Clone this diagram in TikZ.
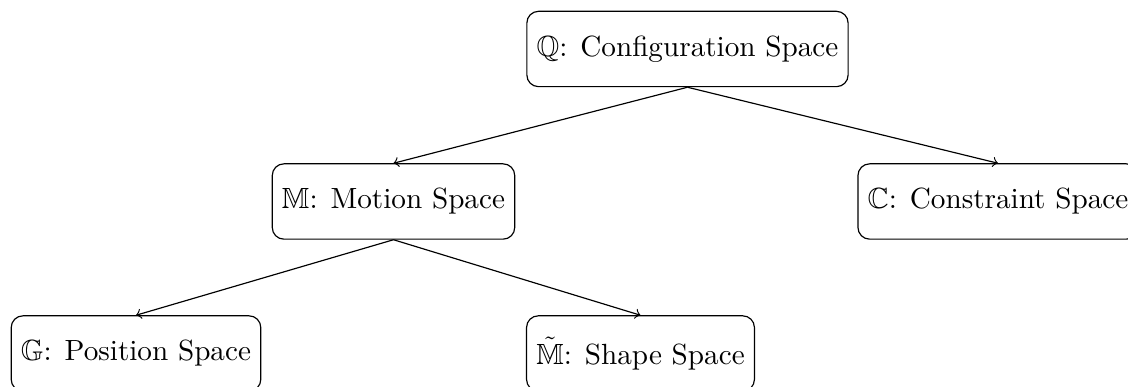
\documentclass[tikz,border=0pt]{standalone}
\usepackage{amssymb}
\begin{document}
\begin{tikzpicture}[x=0.3425pt,y=-0.3425pt,
  box/.style={draw, rounded corners=4pt, minimum height=25.8pt, inner sep=3.33pt},
  edge/.style={->}]
\useasboundingbox (0,0) rectangle (1128,387);
\node[box] (q) at (687.5,49) {$\mathbb{Q}$: Configuration Space};
\node[box] (m) at (393.5,201.5) {$\mathbb{M}$: Motion Space};
\node[box] (c) at (998,201.5) {$\mathbb{C}$: Constraint Space};
\node[box] (g) at (136,353.5) {$\mathbb{G}$: Position Space};
\node[box] (s) at (640.5,353.5) {$\tilde{\mathbb{M}}$: Shape Space};
\draw[edge] (q.south) -- (m.north);
\draw[edge] (q.south) -- (c.north);
\draw[edge] (m.south) -- (g.north);
\draw[edge] (m.south) -- (s.north);
\end{tikzpicture}
\end{document}
